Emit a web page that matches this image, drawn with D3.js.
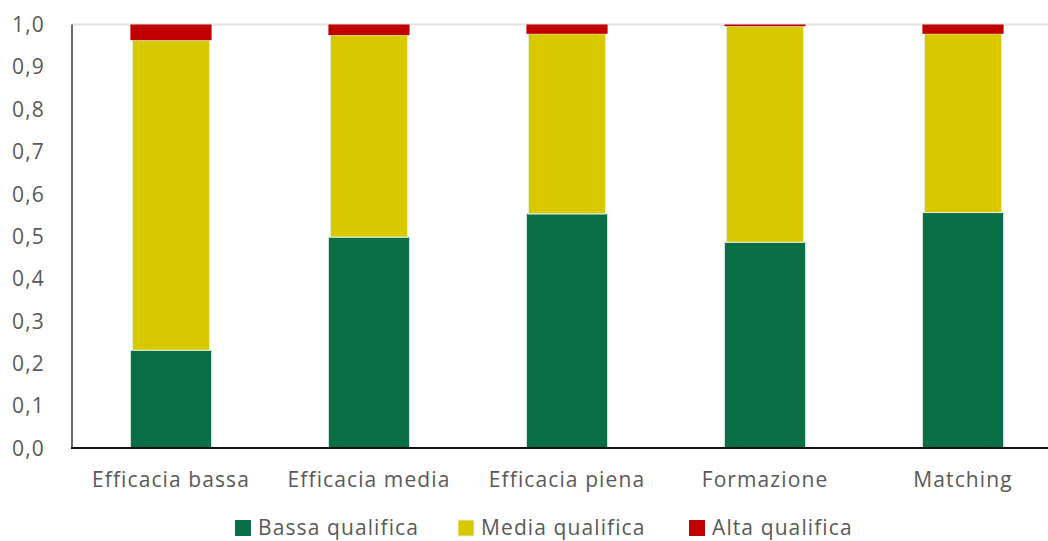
<!DOCTYPE html>
<html>
<head>
<meta charset="utf-8">
<script src="https://cdn.jsdelivr.net/npm/d3@7"></script>
<style>
  body { margin: 0; background: #fff; }
  text { font-family: "Open Sans", sans-serif; fill: #595959; }
</style>
</head>
<body>
<div id="chart"></div>
<script>
const categories = ["Efficacia bassa", "Efficacia media", "Efficacia piena", "Formazione", "Matching"];
const seriesNames = ["Bassa qualifica", "Media qualifica", "Alta qualifica"];
const bassa = [0.231, 0.498, 0.553, 0.486, 0.556];
const media = [0.732, 0.477, 0.425, 0.510, 0.422];
const alta = [0.037, 0.025, 0.022, 0.004, 0.022];
const yTicks = [0, 0.1, 0.2, 0.3, 0.4, 0.5, 0.6, 0.7, 0.8, 0.9, 1.0];
const colors = ["#0a6e46", "#d8c800", "#c00000"];

const width = 1048, height = 541;
const marginLeft = 72, plotTop = 24.5, plotBottom = 448;

const rows = categories.map((c, i) => ({ cat: c, bassa: bassa[i], media: media[i], alta: alta[i] }));
const stack = d3.stack().keys(["bassa", "media", "alta"])(rows);

const svg = d3.select("#chart").append("svg")
    .attr("width", width)
    .attr("height", height);

const x = d3.scaleBand()
    .domain(categories)
    .range([marginLeft, marginLeft + 5 * 198])
    .paddingInner(0.59)
    .paddingOuter(0.295);

const y = d3.scaleLinear().domain([0, 1]).range([plotBottom, plotTop]);

// gridline at top
svg.append("line")
    .attr("x1", marginLeft).attr("x2", width)
    .attr("y1", y(1)).attr("y2", y(1))
    .attr("stroke", "#e3e3e3").attr("stroke-width", 2);

// y axis labels
const yAxis = svg.append("g")
    .attr("transform", `translate(${marginLeft},0)`)
    .call(d3.axisLeft(y).tickValues(yTicks).tickSize(0).tickPadding(27)
      .tickFormat(d => d3.format(".1f")(d).replace(".", ",")));
yAxis.select(".domain").remove();
yAxis.selectAll("text")
    .style("font-size", "21px")
    .style("letter-spacing", "1.2px")
    .attr("dy", "0.34em")
    .attr("fill", "#595959");

// bars
svg.selectAll("g.layer")
    .data(stack)
    .enter().append("g")
    .attr("class", "layer")
    .each(function(layer, li) {
      const inset = li === 1 ? 2 : 0;
      d3.select(this).selectAll("rect")
        .data(layer)
        .enter().append("rect")
        .attr("x", d => x(d.data.cat) + inset)
        .attr("width", x.bandwidth() - 2 * inset)
        .attr("y", d => y(d[1]))
        .attr("height", d => y(d[0]) - y(d[1]))
        .attr("fill", colors[li])
        .attr("stroke", li === 1 ? "#e4efd9" : (li === 0 ? "#d9eadf" : "none"))
        .attr("stroke-width", li === 2 ? 0 : 1);
    });

// axis lines
svg.append("line")
    .attr("x1", marginLeft).attr("x2", marginLeft)
    .attr("y1", plotTop).attr("y2", plotBottom)
    .attr("stroke", "#3a3a3a").attr("stroke-width", 1.5);
svg.append("line")
    .attr("x1", marginLeft - 1).attr("x2", width)
    .attr("y1", plotBottom).attr("y2", plotBottom)
    .attr("stroke", "#111").attr("stroke-width", 2);

// x labels
svg.selectAll("text.xlab")
    .data(categories)
    .enter().append("text")
    .attr("class", "xlab")
    .attr("x", d => x(d) + x.bandwidth() / 2)
    .attr("y", 487)
    .attr("text-anchor", "middle")
    .style("font-size", "21px")
    .style("letter-spacing", "1.1px")
    .text(d => d);

// legend
const legX = [235, 458, 689];
const leg = svg.selectAll("g.leg")
    .data(seriesNames)
    .enter().append("g")
    .attr("class", "leg")
    .attr("transform", (d, i) => `translate(${legX[i]},520)`);
leg.append("rect")
    .attr("width", 16).attr("height", 16)
    .attr("fill", (d, i) => colors[i])
    .attr("stroke", (d, i) => i === 1 ? "#e4efd9" : "none");
leg.append("text")
    .attr("x", 23)
    .attr("y", 15)
    .style("font-size", "21px")
    .style("letter-spacing", "1.1px")
    .text(d => d);
</script>
</body>
</html>
